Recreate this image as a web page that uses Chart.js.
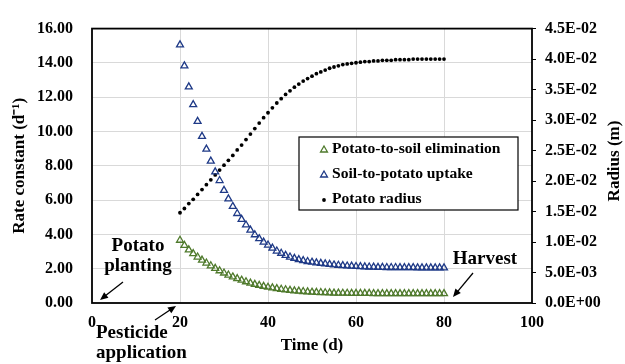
<!DOCTYPE html>
<html>
<head>
<meta charset="utf-8">
<script src="https://cdn.jsdelivr.net/npm/chart.js@4.4.1/dist/chart.umd.min.js"></script>
<style>
  body { margin: 0; background: #fff; }
  #wrap { width: 625px; height: 364px; }
</style>
</head>
<body>
<div id="wrap"><canvas id="myChart" width="625" height="364"></canvas></div>
<script>
// time (d)
const days = [20, 21, 22, 23, 24, 25, 26, 27, 28, 29,
  30, 31, 32, 33, 34, 35, 36, 37, 38, 39,
  40, 41, 42, 43, 44, 45, 46, 47, 48, 49,
  50, 51, 52, 53, 54, 55, 56, 57, 58, 59,
  60, 61, 62, 63, 64, 65, 66, 67, 68, 69,
  70, 71, 72, 73, 74, 75, 76, 77, 78, 79, 80];

// potato-to-soil elimination rate constant (1/d)
const elimination = [3.66, 3.36, 3.10, 2.88, 2.68, 2.50, 2.33, 2.17, 2.02, 1.88,
  1.75, 1.63, 1.52, 1.42, 1.33, 1.24, 1.16, 1.09, 1.03, 0.97,
  0.92, 0.88, 0.84, 0.80, 0.77, 0.74, 0.71, 0.69, 0.67, 0.65,
  0.63, 0.62, 0.61, 0.60, 0.59, 0.58, 0.58, 0.57, 0.57, 0.56,
  0.56, 0.56, 0.56, 0.56, 0.55, 0.55, 0.55, 0.55, 0.55, 0.55,
  0.55, 0.55, 0.55, 0.55, 0.55, 0.55, 0.55, 0.55, 0.55, 0.55, 0.55];

// soil-to-potato uptake rate constant (1/d)
const uptake = [15.05, 13.83, 12.60, 11.57, 10.59, 9.72, 8.97, 8.27, 7.65, 7.14,
  6.57, 6.07, 5.63, 5.22, 4.88, 4.55, 4.25, 3.98, 3.75, 3.55,
  3.38, 3.20, 3.03, 2.90, 2.78, 2.68, 2.60, 2.53, 2.47, 2.42,
  2.38, 2.34, 2.31, 2.28, 2.25, 2.22, 2.20, 2.18, 2.16, 2.15,
  2.13, 2.12, 2.11, 2.10, 2.09, 2.08, 2.08, 2.07, 2.07, 2.07,
  2.06, 2.06, 2.06, 2.06, 2.05, 2.05, 2.05, 2.05, 2.05, 2.05, 2.05];

// potato radius (m)
const radius = [0.0148, 0.0155, 0.0163, 0.0170, 0.0178, 0.0186, 0.0194, 0.0202, 0.0210, 0.0218,
  0.0226, 0.0234, 0.0242, 0.0251, 0.0259, 0.0268, 0.0277, 0.0286, 0.0295, 0.0304,
  0.0312, 0.0320, 0.0328, 0.0335, 0.0342, 0.0348, 0.0354, 0.0359, 0.0364, 0.0368,
  0.0372, 0.0376, 0.0379, 0.0382, 0.0385, 0.0387, 0.0389, 0.0391, 0.0392, 0.0393,
  0.0394, 0.0395, 0.0396, 0.0396, 0.0397, 0.0397, 0.0398, 0.0398, 0.0398, 0.0399,
  0.0399, 0.0399, 0.0399, 0.0400, 0.0400, 0.0400, 0.0400, 0.0400, 0.0400, 0.0400, 0.0400];

const seriesNames = ["Potato-to-soil elimination", "Soil-to-potato uptake", "Potato radius"];
const seriesColors = ["#4F7A2C", "#1F3A87", "#000000"];

const serif = "'Liberation Serif', 'Times New Roman', serif";
Chart.defaults.font.family = serif;
Chart.defaults.font.weight = "bold";
Chart.defaults.color = "#000";

const toXY = (ys) => days.map((d, i) => ({ x: d, y: ys[i] }));

function sciLabel(v) {
  const parts = Number(v).toExponential(1).split("e");
  const exp = parseInt(parts[1], 10);
  const sign = exp < 0 ? "-" : "+";
  return parts[0] + "E" + sign + String(Math.abs(exp)).padStart(2, "0");
}

// plot area border
const framePlugin = {
  id: "frame",
  beforeDatasetsDraw(chart) {
    const { ctx, chartArea: a } = chart;
    ctx.save();
    ctx.strokeStyle = "#000";
    ctx.lineWidth = 1.8;
    ctx.strokeRect(a.left, a.top, a.right - a.left, a.bottom - a.top);
    ctx.restore();
  },
};

function drawMarker(ctx, style, x, y, color) {
  ctx.save();
  ctx.strokeStyle = color;
  ctx.fillStyle = color;
  ctx.lineWidth = 1.3;
  if (style === "triangle") {
    const r = 4;
    ctx.beginPath();
    ctx.moveTo(x, y - r);
    ctx.lineTo(x + r * 0.866, y + r * 0.5);
    ctx.lineTo(x - r * 0.866, y + r * 0.5);
    ctx.closePath();
    ctx.stroke();
  } else {
    ctx.beginPath();
    ctx.arc(x, y, 1.9, 0, Math.PI * 2);
    ctx.fill();
  }
  ctx.restore();
}

// legend box inside the plot
const legendBoxPlugin = {
  id: "legendBox",
  afterDatasetsDraw(chart) {
    const { ctx } = chart;
    const box = { x: 299, y: 137, w: 219, h: 73 };
    ctx.save();
    ctx.fillStyle = "#fff";
    ctx.fillRect(box.x, box.y, box.w, box.h);
    ctx.strokeStyle = "#000";
    ctx.lineWidth = 1.2;
    ctx.strokeRect(box.x, box.y, box.w, box.h);
    ctx.font = "bold 15.6px " + serif;
    ctx.fillStyle = "#000";
    ctx.textBaseline = "middle";
    ctx.textAlign = "left";
    const styles = ["triangle", "triangle", "circle"];
    seriesNames.forEach((name, i) => {
      const cy = box.y + 12 + i * 25;
      drawMarker(ctx, styles[i], 324, cy + 1, seriesColors[i]);
      ctx.fillStyle = "#000";
      ctx.fillText(name, 332, cy);
    });
    ctx.restore();
  },
};

function arrow(ctx, x1, y1, x2, y2) {
  const ang = Math.atan2(y2 - y1, x2 - x1);
  const len = 8, wid = 3.5;
  ctx.beginPath();
  ctx.moveTo(x1, y1);
  ctx.lineTo(x2 - Math.cos(ang) * len * 0.8, y2 - Math.sin(ang) * len * 0.8);
  ctx.stroke();
  ctx.beginPath();
  ctx.moveTo(x2, y2);
  ctx.lineTo(x2 - Math.cos(ang) * len - Math.sin(ang) * wid, y2 - Math.sin(ang) * len + Math.cos(ang) * wid);
  ctx.lineTo(x2 - Math.cos(ang) * len + Math.sin(ang) * wid, y2 - Math.sin(ang) * len - Math.cos(ang) * wid);
  ctx.closePath();
  ctx.fill();
}

// text notes, arrows and right axis title
const notesPlugin = {
  id: "notes",
  afterDraw(chart) {
    const { ctx } = chart;
    ctx.save();
    ctx.fillStyle = "#000";
    ctx.strokeStyle = "#000";
    ctx.lineWidth = 1.3;
    ctx.textBaseline = "middle";
    ctx.font = "bold 19px " + serif;
    ctx.textAlign = "center";
    ctx.fillText("Potato", 138, 246);
    ctx.fillText("planting", 138, 266);
    ctx.fillText("Harvest", 485, 259);
    ctx.textAlign = "left";
    ctx.fillText("Pesticide", 96, 333);
    ctx.fillText("application", 96, 353);
    arrow(ctx, 123, 282, 100, 300);
    arrow(ctx, 155, 320, 176, 306);
    arrow(ctx, 473, 273, 453, 297);

    ctx.translate(615, 161);
    ctx.rotate(-Math.PI / 2);
    ctx.textAlign = "center";
    ctx.font = "bold 17px " + serif;
    ctx.fillText("Radius (m)", 0, 0);
    ctx.restore();
  },
};

const ctx = document.getElementById("myChart");

const myChart = new Chart(ctx, {
  type: "scatter",
  data: {
    datasets: [
      {
        label: seriesNames[0],
        data: toXY(elimination),
        yAxisID: "y",
        pointStyle: "triangle",
        pointRadius: 4,
        pointBorderWidth: 1.3,
        borderColor: seriesColors[0],
        backgroundColor: "rgba(0,0,0,0)",
      },
      {
        label: seriesNames[1],
        data: toXY(uptake),
        yAxisID: "y",
        pointStyle: "triangle",
        pointRadius: 4,
        pointBorderWidth: 1.3,
        borderColor: seriesColors[1],
        backgroundColor: "rgba(0,0,0,0)",
      },
      {
        label: seriesNames[2],
        data: toXY(radius),
        yAxisID: "y1",
        pointStyle: "circle",
        pointRadius: 1.9,
        pointBorderWidth: 0,
        borderColor: seriesColors[2],
        backgroundColor: seriesColors[2],
      },
    ],
  },
  options: {
    responsive: false,
    animation: false,
    layout: { padding: { top: 20, left: 0, right: 0, bottom: 0 } },
    plugins: {
      legend: { display: false },
      tooltip: { enabled: false },
    },
    scales: {
      x: {
        type: "linear",
        min: 0,
        max: 100,
        ticks: { stepSize: 20, padding: 10, font: { size: 16, weight: "bold" } },
        grid: {
          color: (c) => (c.tick && (c.tick.value === 0 || c.tick.value === 100) ? "rgba(0,0,0,0)" : "#D9D9D9"),
          drawTicks: false,
        },
        border: { display: false },
        title: { display: true, text: "Time (d)", font: { size: 17, weight: "bold" }, padding: { top: 0, bottom: 8 } },
        afterFit: (s) => { s.height = 61; },
      },
      y: {
        position: "left",
        min: 0,
        max: 16,
        ticks: { stepSize: 2, padding: 19, font: { size: 16, weight: "bold" }, callback: (v) => Number(v).toFixed(2) },
        grid: {
          color: (c) => (c.tick && (c.tick.value === 0 || c.tick.value === 16) ? "rgba(0,0,0,0)" : "#D9D9D9"),
          drawTicks: false,
        },
        border: { display: false },
        title: { display: true, text: "Rate constant (d\u207B\u00B9)", font: { size: 17, weight: "bold" }, padding: { top: 9, bottom: 0 } },
        afterFit: (s) => { s.width = 92; },
      },
      y1: {
        position: "right",
        min: 0,
        max: 0.045,
        ticks: { stepSize: 0.005, padding: 9, font: { size: 16, weight: "bold" }, callback: (v) => sciLabel(v) },
        grid: { drawOnChartArea: false, drawTicks: true, tickLength: 4, color: "#000" },
        border: { display: false },
        afterFit: (s) => { s.width = 93; },
      },
    },
  },
  plugins: [framePlugin, legendBoxPlugin, notesPlugin],
});
</script>
</body>
</html>
